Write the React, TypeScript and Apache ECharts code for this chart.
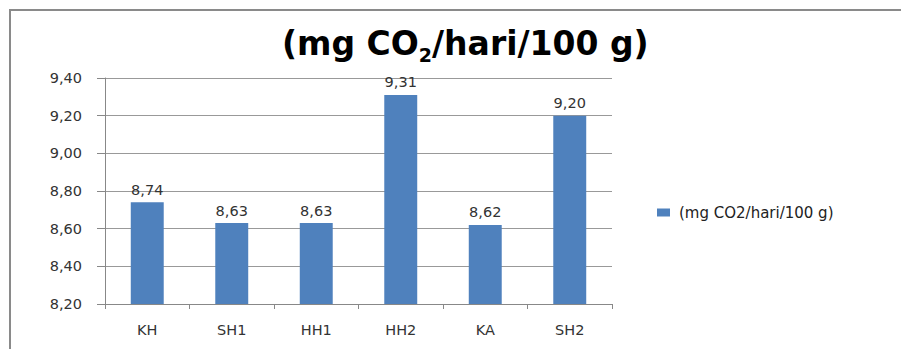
import React, { useEffect, useRef } from "react";
import * as echarts from "echarts";

const categories = ["KH", "SH1", "HH1", "HH2", "KA", "SH2"];
const values = [8.74, 8.63, 8.63, 9.31, 8.62, 9.2];
const seriesName = "(mg CO2/hari/100 g)";
const yMin = 8.2;
const yMax = 9.4;
const yStep = 0.2;

const fmt = (v: number) => v.toFixed(2).replace(".", ",");
const FONT = "DejaVu Sans";

export default function App() {
  const ref = useRef<HTMLDivElement>(null);
  useEffect(() => {
    if (!ref.current) return;
    const chart = echarts.init(ref.current, null, { renderer: "svg" });
    chart.setOption({
      animation: false,
      backgroundColor: "#ffffff",
      title: {
        left: 282,
        top: 22,
        padding: 0,
        text: "{a|(mg CO}{s|2}{a|/hari/100 g)}",
        textStyle: {
          rich: {
            a: { fontFamily: FONT, fontWeight: "bold", fontSize: 33, color: "#000", lineHeight: 42, verticalAlign: "middle" },
            s: { fontFamily: FONT, fontWeight: "bold", fontSize: 19, color: "#000", lineHeight: 19, verticalAlign: "bottom" },
          },
        },
      },
      legend: {
        left: 652,
        top: 200,
        itemWidth: 13,
        itemHeight: 8,
        icon: "rect",
        textStyle: { fontFamily: FONT, fontSize: 15, color: "#222", padding: [0, 0, 0, 4] },
        data: [seriesName],
      },
      graphic: [
        {
          type: "rect",
          shape: { x: 10, y: 10, width: 1000, height: 1000 },
          style: { fill: "none", stroke: "#8a8a8a", lineWidth: 2 },
          silent: true,
        },
      ],
      grid: { left: 105, right: 289, top: 78, bottom: 45, containLabel: false },
      xAxis: {
        type: "category",
        data: categories,
        axisLine: { show: true, lineStyle: { color: "#888", width: 1 } },
        axisTick: { show: true, length: 5, alignWithLabel: false, lineStyle: { color: "#888" } },
        axisLabel: { fontFamily: FONT, fontSize: 14.5, color: "#333", margin: 18 },
      },
      yAxis: {
        type: "value",
        min: yMin,
        max: yMax,
        interval: yStep,
        axisLine: { show: true, lineStyle: { color: "#888", width: 1 } },
        axisTick: { show: true, length: 8, lineStyle: { color: "#888" } },
        splitLine: { show: true, lineStyle: { color: "#999", width: 1 } },
        axisLabel: { fontFamily: FONT, fontSize: 14.5, color: "#333", margin: 23, formatter: (v: number) => fmt(v) },
      },
      series: [
        {
          name: seriesName,
          type: "bar",
          data: values,
          barWidth: "39%",
          itemStyle: { color: "#4F81BD" },
          label: {
            show: true,
            position: "top",
            distance: 5,
            fontFamily: FONT,
            fontSize: 14.5,
            color: "#333",
            formatter: (p: any) => fmt(p.value),
          },
        },
      ],
    });
    return () => chart.dispose();
  }, []);
  return (
    <div
      ref={ref}
      style={{ position: "fixed", left: 0, top: 0, width: 901, height: 349 }}
    />
  );
}
